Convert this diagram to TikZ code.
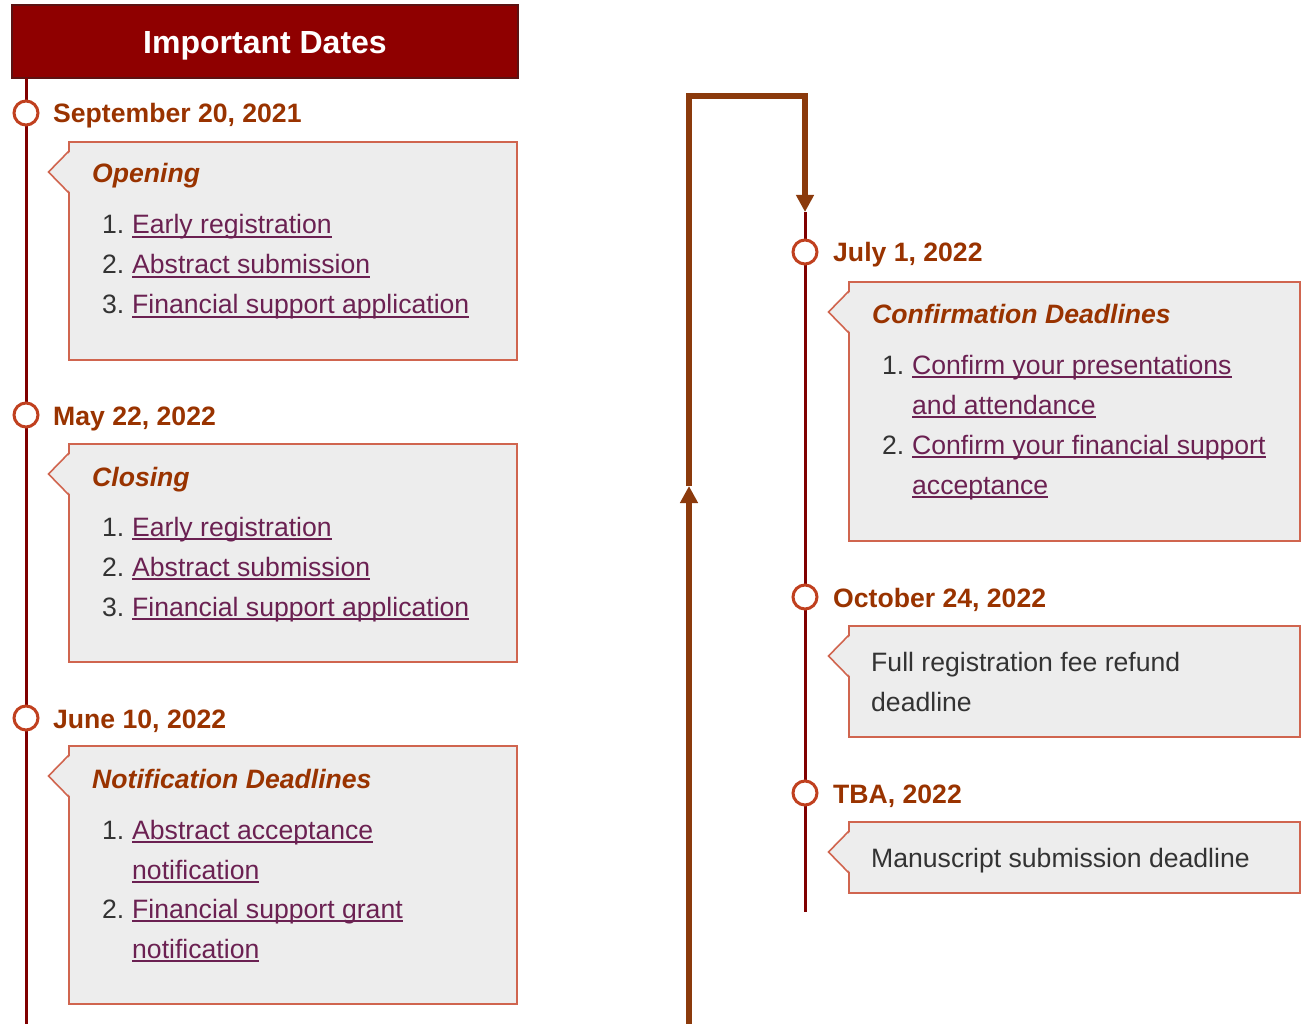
\documentclass[tikz,border=0pt]{standalone}
\usepackage{fontspec}
\setmainfont{Liberation Sans}
\usetikzlibrary{arrows.meta,calc}
\definecolor{hdrfill}{HTML}{8F0000}
\definecolor{hdrline}{HTML}{5C1212}
\definecolor{tline}{HTML}{800000}
\definecolor{dotline}{HTML}{C0401F}
\definecolor{datecol}{HTML}{993300}
\definecolor{boxfill}{HTML}{EDEDED}
\definecolor{boxline}{HTML}{D0654F}
\definecolor{linkcol}{HTML}{6B2152}
\definecolor{numcol}{HTML}{333333}
\definecolor{conncol}{HTML}{8B3A0C}
\newcommand\lnk[1]{\setbox0\hbox{#1}\rlap{\rule[-3.6pt]{\wd0}{1.3pt}}\box0}
\newcommand\boxptr[1]{%
  \fill[boxfill] ([yshift=-9pt,xshift=2pt]#1.north west) -- ([yshift=-30pt,xshift=-20.5pt]#1.north west) -- ([yshift=-51pt,xshift=2pt]#1.north west) -- cycle;
  \draw[boxline,line width=1.6pt] ([yshift=-9pt]#1.north west) -- ([yshift=-30pt,xshift=-20.5pt]#1.north west) -- ([yshift=-51pt]#1.north west);}
\tikzset{
  infobox/.style={draw=boxline, line width=1.6pt, fill=boxfill, rectangle, inner sep=0pt, outer sep=0pt, anchor=north west},
  dot/.style={circle, draw=dotline, line width=3pt, fill=white, minimum size=24pt, inner sep=0pt},
  datetxt/.style={anchor=base west, inner sep=0pt, font=\fontsize{26.6}{30}\selectfont\bfseries, text=datecol},
  titletxt/.style={anchor=base west, inner sep=0pt, font=\fontsize{26.6}{30}\selectfont\bfseries\itshape, text=datecol},
  numtxt/.style={anchor=base west, inner sep=0pt, font=\fontsize{26.6}{30}\selectfont, text=numcol},
  linktxt/.style={anchor=base west, inner sep=0pt, font=\fontsize{26.6}{30}\selectfont, text=linkcol},
  plaintxt/.style={anchor=base west, inner sep=0pt, font=\fontsize{26.6}{30}\selectfont, text=numcol},
  timeline/.style={draw=tline, line width=3pt},
  conn/.style={draw=conncol, line width=5.5pt, -{Triangle[width=17pt,length=17pt]}},
}
\begin{document}
\begin{tikzpicture}[x=1pt,y=-1pt]
\useasboundingbox (0,0) rectangle (1307,1024);
% header
\node[draw=hdrline, line width=1.5pt, fill=hdrfill, minimum width=506pt, minimum height=73pt, inner sep=0pt, outer sep=0pt, anchor=north west] (hdr) at (12,5) {};
\node[anchor=base, inner sep=0pt, font=\fontsize{32}{36}\selectfont\bfseries, text=white] (hdrtxt) at (265,53.5) {Important Dates};
% timelines
\coordinate (lbot) at (26,1024);
\coordinate (rtop) at (805,212);
\coordinate (rbot) at (805,912);
\draw[timeline] (26,78) -- (lbot);
\draw[timeline] (rtop) -- (rbot);
% connector
\coordinate (cbot) at (689,1026);
\coordinate (cmid) at (689,486);
\draw[conn] (cbot) -- (cmid);
\draw[conn] (cmid) -- ++(0,-390) -| (rtop);
% left column
\node[dot] (d1) at (26,113) {};
\node[datetxt] (t1) at (53,123) {September 20, 2021};
\node[infobox, minimum width=448pt, minimum height=218pt] (b1) at (69,142) {};
\boxptr{b1}
\node[titletxt] (b1t) at (92,183) {Opening};
\node[numtxt] (b1n1) at (102,234) {1.};
\node[linktxt] (b1l1) at (132,234) {\lnk{Early registration}};
\node[numtxt] (b1n2) at (102,274) {2.};
\node[linktxt] (b1l2) at (132,274) {\lnk{Abstract submission}};
\node[numtxt] (b1n3) at (102,314) {3.};
\node[linktxt] (b1l3) at (132,314) {\lnk{Financial support application}};

\node[dot] (d2) at (26,415) {};
\node[datetxt] (t2) at (53,425) {May 22, 2022};
\node[infobox, minimum width=448pt, minimum height=218pt] (b2) at (69,444) {};
\boxptr{b2}
\node[titletxt] (b2t) at (92,486) {Closing};
\node[numtxt] (b2n1) at (102,536) {1.};
\node[linktxt] (b2l1) at (132,536) {\lnk{Early registration}};
\node[numtxt] (b2n2) at (102,576) {2.};
\node[linktxt] (b2l2) at (132,576) {\lnk{Abstract submission}};
\node[numtxt] (b2n3) at (102,616) {3.};
\node[linktxt] (b2l3) at (132,616) {\lnk{Financial support application}};

\node[dot] (d3) at (26,718) {};
\node[datetxt] (t3) at (53,728) {June 10, 2022};
\node[infobox, minimum width=448pt, minimum height=258pt] (b3) at (69,746) {};
\boxptr{b3}
\node[titletxt] (b3t) at (92,788) {Notification Deadlines};
\node[numtxt] (b3n1) at (102,839) {1.};
\node[linktxt] (b3l1) at (132,839) {\lnk{Abstract acceptance}};
\node[linktxt] (b3l1b) at (132,879) {\lnk{notification}};
\node[numtxt] (b3n2) at (102,918) {2.};
\node[linktxt] (b3l2) at (132,918) {\lnk{Financial support grant}};
\node[linktxt] (b3l2b) at (132,958) {\lnk{notification}};

% right column
\node[dot] (d4) at (805,252) {};
\node[datetxt] (t4) at (833,262) {July 1, 2022};
\node[infobox, minimum width=451pt, minimum height=259pt] (b4) at (849,282) {};
\boxptr{b4}
\node[titletxt] (b4t) at (872,324) {Confirmation Deadlines};
\node[numtxt] (b4n1) at (882,374) {1.};
\node[linktxt] (b4l1) at (912,374) {\lnk{Confirm your presentations}};
\node[linktxt] (b4l1b) at (912,414) {\lnk{and attendance}};
\node[numtxt] (b4n2) at (882,454) {2.};
\node[linktxt] (b4l2) at (912,454) {\lnk{Confirm your financial support}};
\node[linktxt] (b4l2b) at (912,494) {\lnk{acceptance}};

\node[dot] (d5) at (805,597) {};
\node[datetxt] (t5) at (833,607) {October 24, 2022};
\node[infobox, minimum width=451pt, minimum height=111pt] (b5) at (849,626) {};
\boxptr{b5}
\node[plaintxt] (b5a) at (871,671) {Full registration fee refund};
\node[plaintxt] (b5b) at (871,711) {deadline};

\node[dot] (d6) at (805,793) {};
\node[datetxt] (t6) at (833,803) {TBA, 2022};
\node[infobox, minimum width=451pt, minimum height=71pt] (b6) at (849,822) {};
\boxptr{b6}
\node[plaintxt] (b6a) at (871,867) {Manuscript submission deadline};
\end{tikzpicture}
\end{document}
